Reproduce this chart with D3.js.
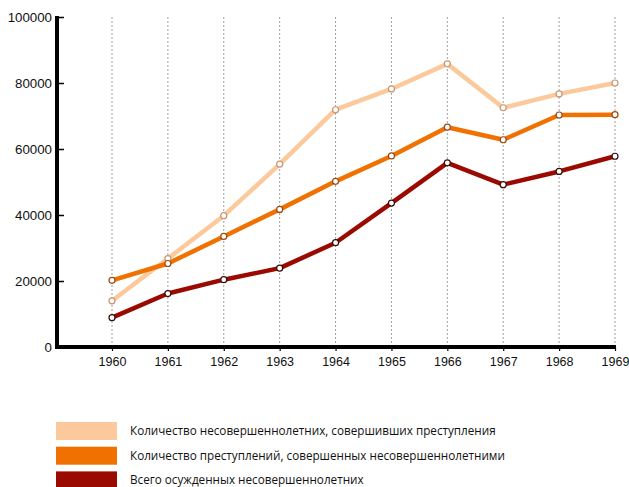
<!DOCTYPE html>
<html>
<head>
<meta charset="utf-8">
<script src="https://cdn.jsdelivr.net/npm/d3@7"></script>
<style>
  html, body { margin: 0; padding: 0; background: #fff; }
  svg { display: block; font-family: "Open Sans", "Noto Sans", sans-serif; }
</style>
</head>
<body>
<svg id="chart" width="629" height="487"></svg>
<script>
const years = [1960, 1961, 1962, 1963, 1964, 1965, 1966, 1967, 1968, 1969];
const yTicks = [0, 20000, 40000, 60000, 80000, 100000];

const juvenilesOffenders = [14000, 26800, 39800, 55400, 71900, 78200, 85800, 72500, 76700, 80000];
const juvenileCrimes     = [20200, 25300, 33500, 41700, 50200, 57900, 66600, 62800, 70300, 70400];
const juvenilesConvicted = [8900, 16200, 20400, 23900, 31600, 43600, 55800, 49200, 53200, 57800];

const seriesNames = [
  'Количество несовершеннолетних, совершивших преступления',
  'Количество преступлений, совершенных несовершеннолетними',
  'Всего осужденных несовершеннолетних',
];

const SERIES = [
  { name: seriesNames[0], values: juvenilesOffenders, color: '#fbc99b', ring: '#c99670' },
  { name: seriesNames[1], values: juvenileCrimes,     color: '#f07000', ring: '#9a4a10' },
  { name: seriesNames[2], values: juvenilesConvicted, color: '#9b0a00', ring: '#3a0a05' },
];

const M = { top: 17, left: 57, bottom: 347 };

const svg = d3.select('#chart');

const x = d3.scaleLinear()
  .domain([1960, 1969])
  .range([112, 615]);

const y = d3.scaleLinear()
  .domain([0, 100000])
  .range([M.bottom, M.top]);

// vertical dotted gridlines
svg.append('g')
  .selectAll('line')
  .data(years)
  .join('line')
  .attr('x1', d => x(d)).attr('x2', d => x(d))
  .attr('y1', M.top).attr('y2', M.bottom)
  .attr('stroke', '#888')
  .attr('stroke-width', 0.8)
  .attr('stroke-dasharray', '2,2');

// y axis
const yAxis = svg.append('g')
  .attr('transform', `translate(${M.left},0)`)
  .call(d3.axisRight(y).tickValues(yTicks).tickSize(7).tickFormat(d3.format('d')));
yAxis.select('.domain').remove();
yAxis.selectAll('.tick line').attr('stroke', '#000').attr('stroke-width', 1.5);
yAxis.selectAll('.tick text')
  .attr('x', -5)
  .attr('text-anchor', 'end')
  .attr('fill', '#111')
  .attr('font-size', 13.3)
  .attr('font-family', 'inherit');

svg.append('line')
  .attr('x1', M.left).attr('x2', M.left)
  .attr('y1', M.top - 1).attr('y2', M.bottom + 2)
  .attr('stroke', '#000').attr('stroke-width', 4);

// x axis
const xAxis = svg.append('g')
  .attr('transform', `translate(0,${M.bottom})`)
  .call(d3.axisBottom(x).tickValues(years).tickSize(4).tickFormat(d3.format('d')));
xAxis.select('.domain').remove();
xAxis.selectAll('.tick line').attr('stroke', '#000').attr('stroke-width', 1.2);
xAxis.selectAll('.tick text')
  .attr('y', 10)
  .attr('fill', '#111')
  .attr('font-size', 12.5)
  .attr('font-family', 'inherit');

svg.append('line')
  .attr('x1', M.left - 2).attr('x2', x(1969) + 1)
  .attr('y1', M.bottom).attr('y2', M.bottom)
  .attr('stroke', '#000').attr('stroke-width', 4);

// lines
const line = d3.line()
  .x((d, i) => x(years[i]))
  .y(d => y(d));

SERIES.forEach(s => {
  svg.append('path')
    .datum(s.values)
    .attr('d', line)
    .attr('fill', 'none')
    .attr('stroke', s.color)
    .attr('stroke-width', 4.5)
    .attr('stroke-linejoin', 'round');
});

SERIES.forEach(s => {
  svg.append('g')
    .selectAll('circle')
    .data(s.values)
    .join('circle')
    .attr('cx', (d, i) => x(years[i]))
    .attr('cy', d => y(d))
    .attr('r', 3)
    .attr('fill', '#fff')
    .attr('stroke', s.ring)
    .attr('stroke-width', 1.2);
});

// legend
const legend = svg.append('g')
  .selectAll('g')
  .data(SERIES)
  .join('g')
  .attr('transform', (d, i) => `translate(56,${422 + i * 24.7})`);

legend.append('rect')
  .attr('width', 61).attr('height', 18)
  .attr('fill', d => d.color);

legend.append('text')
  .attr('x', 74).attr('y', 13)
  .attr('font-size', 11.7)
  .attr('fill', '#111')
  .text(d => d.name);
</script>
</body>
</html>
